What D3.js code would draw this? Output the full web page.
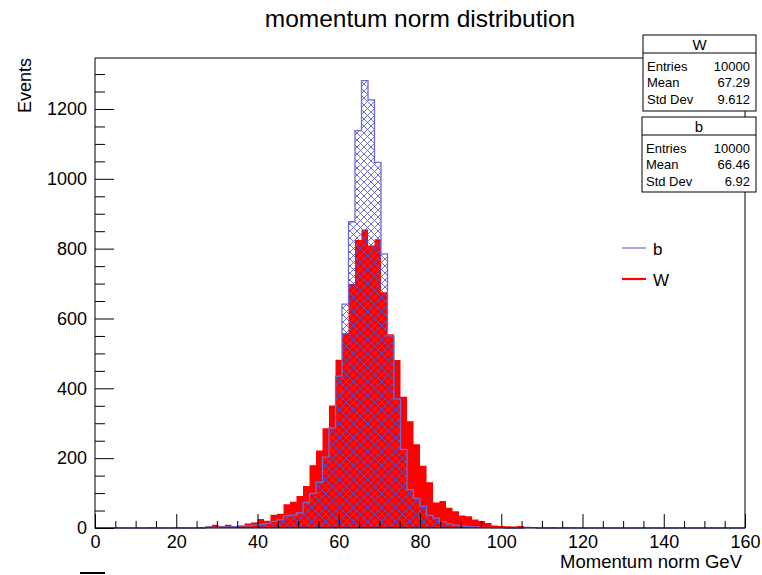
<!DOCTYPE html>
<html>
<head>
<meta charset="utf-8">
<script src="https://cdn.jsdelivr.net/npm/d3@7"></script>
<style>
  html, body { margin: 0; padding: 0; background: #fff; }
  svg { display: block; font-family: "Liberation Sans", Arial, Helvetica, sans-serif; }
</style>
</head>
<body>
<svg id="chart" width="762" height="575"></svg>
<script>
// ---- data ----
const xRange = [0, 160];
const nBins = 100;
const xTickValues = [0, 20, 40, 60, 80, 100, 120, 140, 160];
const yTickValues = [0, 200, 400, 600, 800, 1000, 1200];
const yMax = 1346;

// W histogram (red), 100 bins of width 1.6
const countsW = [
  0,0,0,0,0,0,0,0,2,0,
  0,0,2,0,0,0,2,4,9,6,
  9,4,6,13,16,26,21,38,41,68,
  75,92,120,180,222,286,351,482,558,699,
  825,855,809,827,675,555,481,376,306,240,
  178,131,73,77,58,48,36,34,24,20,
  14,7,6,5,4,6,3,2,0,1,
  2,0,2,1,0,0,0,0,0,0,
  0,0,0,0,0,0,0,0,0,0,
  0,0,0,0,0,0,0,0,0,0
];
// b histogram (blue, hatched)
const countsB = [
  0,0,0,0,0,0,0,0,0,0,
  0,0,0,0,0,0,0,3,2,3,
  3,4,6,6,8,10,13,19,23,35,
  37,43,73,99,131,203,287,435,641,877,
  1138,1281,1226,1047,785,550,370,225,110,85,
  62,36,28,18,12,8,6,4,3,2,
  2,1,1,0,0,0,2,1,0,0,
  0,0,0,0,0,0,0,0,0,0,
  0,0,0,0,0,0,0,0,0,0,
  0,0,0,0,0,0,0,0,0,0
];
const statsW = [["Entries", "10000"], ["Mean", "67.29"], ["Std Dev", "9.612"]];
const statsB = [["Entries", "10000"], ["Mean", "66.46"], ["Std Dev", "6.92"]];
const legendItems = [["b", "#6b6bdb", 1.2], ["W", "#ff0000", 2.2]];

// ---- layout ----
const svg = d3.select("#chart");
const L = 95, R = 745, T = 58, B = 528;
const x = d3.scaleLinear().domain(xRange).range([L, R]);
const y = d3.scaleLinear().domain([0, yMax]).range([B, T]);
const binW = (xRange[1] - xRange[0]) / nBins;

function stepPoints(counts) {
  const pts = counts.map((v, i) => [xRange[0] + i * binW, v]);
  pts.push([xRange[1], counts[counts.length - 1]]);
  return pts;
}

const defs = svg.append("defs");
const pat = defs.append("pattern")
  .attr("id", "xhatch").attr("patternUnits", "userSpaceOnUse")
  .attr("width", 7).attr("height", 7);
pat.append("path")
  .attr("d", "M0,0L7,7M7,0L0,7M-1,6L1,8M6,-1L8,1M-1,1L1,-1M6,8L8,6")
  .attr("stroke", "#5555d5").attr("stroke-width", 0.85).attr("fill", "none");

const area = d3.area().curve(d3.curveStepAfter)
  .x(d => x(d[0])).y0(y(0)).y1(d => y(d[1]));
const line = d3.line().curve(d3.curveStepAfter)
  .x(d => x(d[0])).y(d => y(d[1]));

// red W
svg.append("path").datum(stepPoints(countsW))
  .attr("d", area).attr("fill", "#ff0000").attr("stroke", "none");
// blue b hatched
svg.append("path").datum(stepPoints(countsB))
  .attr("d", area).attr("fill", "url(#xhatch)").attr("stroke", "none");
svg.append("path").datum(stepPoints(countsB))
  .attr("d", line).attr("fill", "none").attr("stroke", "#6b6bdb").attr("stroke-width", 1.3);

// frame
svg.append("rect").attr("x", L).attr("y", T).attr("width", R - L).attr("height", B - T)
  .attr("fill", "none").attr("stroke", "#000").attr("stroke-width", 1);

// x axis (ticks inward)
const xMinor = d3.range(xRange[0], xRange[1] + 0.001, 5).filter(v => v % 20 !== 0);
svg.append("g").attr("transform", `translate(0,${B})`)
  .call(d3.axisBottom(x).tickValues(xMinor).tickSize(-7).tickFormat(""))
  .call(g => g.select(".domain").remove())
  .call(g => g.selectAll("line").attr("stroke", "#000"));
svg.append("g").attr("transform", `translate(0,${B})`)
  .call(d3.axisBottom(x).tickValues(xTickValues).tickSize(-14).tickPadding(7).tickFormat(d3.format("d")))
  .call(g => g.select(".domain").remove())
  .call(g => g.selectAll("line").attr("stroke", "#000"))
  .call(g => g.selectAll("text").attr("font-size", 18).attr("fill", "#000")
    .attr("font-family", "Liberation Sans, Arial, sans-serif"));

// y axis (ticks inward)
const yMinor = d3.range(0, yMax, 50).filter(v => v % 200 !== 0);
svg.append("g").attr("transform", `translate(${L},0)`)
  .call(d3.axisLeft(y).tickValues(yMinor).tickSize(-10).tickFormat(""))
  .call(g => g.select(".domain").remove())
  .call(g => g.selectAll("line").attr("stroke", "#000"));
svg.append("g").attr("transform", `translate(${L},0)`)
  .call(d3.axisLeft(y).tickValues(yTickValues).tickSize(-19).tickPadding(8).tickFormat(d3.format("d")))
  .call(g => g.select(".domain").remove())
  .call(g => g.selectAll("line").attr("stroke", "#000"))
  .call(g => g.selectAll("text").attr("font-size", 18).attr("fill", "#000")
    .attr("font-family", "Liberation Sans, Arial, sans-serif"));

// titles
svg.append("text").attr("x", 420).attr("y", 27).attr("text-anchor", "middle")
  .attr("font-size", 24.5).attr("fill", "#000").text("momentum norm distribution");
svg.append("text").attr("x", 742).attr("y", 568).attr("text-anchor", "end")
  .attr("font-size", 18.5).attr("fill", "#000").text("Momentum norm GeV");
svg.append("text").attr("transform", "translate(31,58) rotate(-90)").attr("text-anchor", "end")
  .attr("font-size", 18).attr("fill", "#000").text("Events");

// legend
legendItems.forEach(([name, col, w], i) => {
  const yy = 248 + i * 31;
  svg.append("line").attr("x1", 622).attr("x2", 646).attr("y1", yy).attr("y2", yy)
    .attr("stroke", col).attr("stroke-width", w);
  svg.append("text").attr("x", 653).attr("y", yy + 7).attr("font-size", 17)
    .attr("fill", "#000").text(name);
});

// stats boxes
function statBox(x0, y0, w, h, hdr, title, rows) {
  const g = svg.append("g");
  g.append("rect").attr("x", x0).attr("y", y0).attr("width", w).attr("height", h)
    .attr("fill", "#fff").attr("stroke", "#000").attr("stroke-width", 1);
  g.append("line").attr("x1", x0).attr("x2", x0 + w).attr("y1", y0 + hdr).attr("y2", y0 + hdr)
    .attr("stroke", "#000");
  g.append("text").attr("x", x0 + w / 2).attr("y", y0 + hdr / 2 + 5.5).attr("text-anchor", "middle")
    .attr("font-size", 15).attr("fill", "#000").text(title);
  rows.forEach(([k, v], i) => {
    const yy = y0 + hdr + 13 + i * 16.8 + 4.5;
    g.append("text").attr("x", x0 + 4).attr("y", yy).attr("font-size", 13).attr("fill", "#000").text(k);
    g.append("text").attr("x", x0 + w - 6).attr("y", yy).attr("text-anchor", "end")
      .attr("font-size", 13).attr("fill", "#000").text(v);
  });
}
statBox(643, 35, 113, 76, 18, "W", statsW);
statBox(642, 117, 114, 75, 18, "b", statsB);

// small mark at bottom-left (cropped element)
svg.append("rect").attr("x", 80).attr("y", 572).attr("width", 25).attr("height", 2).attr("fill", "#000");
</script>
</body>
</html>
